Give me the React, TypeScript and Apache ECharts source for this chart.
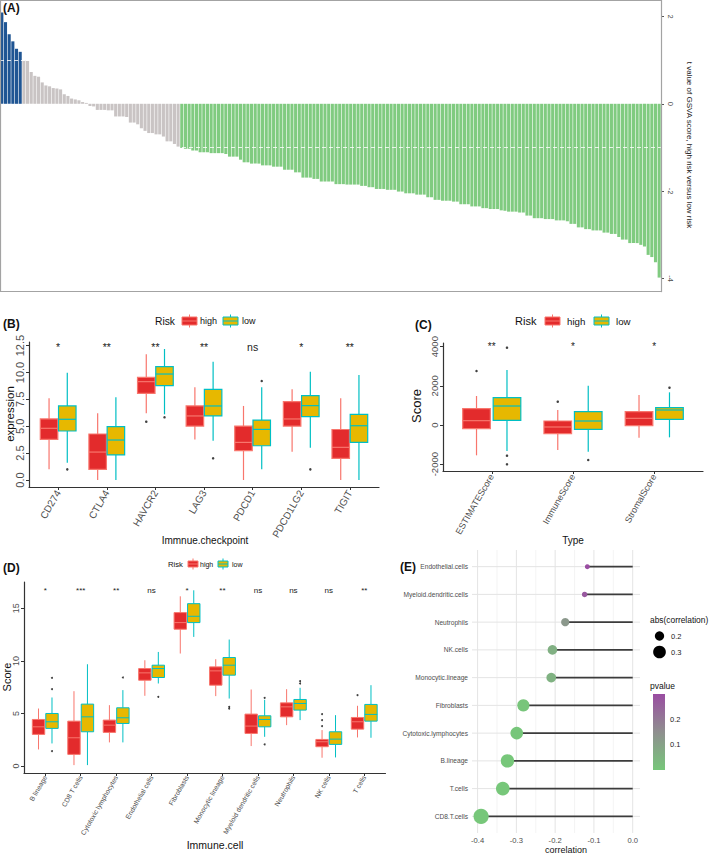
import React, { useEffect, useRef } from 'react';
import * as echarts from 'echarts';

const FONT = "'Liberation Sans', Arial, Helvetica, sans-serif";

// ---------- Panel A: t value of GSVA score (high vs low risk), one bar per pathway ----------
const gsvaT = [
  2.09, 1.87, 1.59, 1.43, 1.26, 1.19, 0.99, 0.98, 0.73, 0.64,
  0.62, 0.49, 0.42, 0.40, 0.36, 0.35, 0.33, 0.22, 0.18, 0.12,
  0.10, 0.08, 0.04, 0.02, -0.05, -0.06, -0.14, -0.14, -0.14, -0.15,
  -0.15, -0.29, -0.29, -0.29, -0.30, -0.43, -0.43, -0.47, -0.56, -0.62,
  -0.67, -0.67, -0.70, -0.70, -0.75, -0.86, -0.86, -0.92, -0.98, -1.01,
  -1.03, -1.03, -1.07, -1.07, -1.11, -1.11, -1.11, -1.13, -1.13, -1.13,
  -1.13, -1.15, -1.21, -1.21, -1.21, -1.28, -1.34, -1.34, -1.37, -1.37,
  -1.37, -1.41, -1.41, -1.41, -1.44, -1.44, -1.44, -1.51, -1.51, -1.51,
  -1.57, -1.57, -1.69, -1.69, -1.69, -1.72, -1.72, -1.78, -1.78, -1.78,
  -1.78, -1.84, -1.84, -1.84, -1.85, -1.85, -1.85, -1.85, -1.88, -1.88,
  -1.91, -1.91, -1.95, -1.95, -1.95, -1.97, -1.97, -1.97, -2.01, -2.01,
  -2.05, -2.05, -2.05, -2.08, -2.08, -2.08, -2.14, -2.14, -2.20, -2.20,
  -2.22, -2.22, -2.22, -2.24, -2.24, -2.30, -2.30, -2.30, -2.35, -2.35,
  -2.35, -2.39, -2.39, -2.41, -2.41, -2.41, -2.44, -2.45, -2.47, -2.47,
  -2.47, -2.49, -2.49, -2.56, -2.56, -2.62, -2.62, -2.62, -2.64, -2.64,
  -2.64, -2.67, -2.67, -2.67, -2.69, -2.75, -2.75, -2.83, -2.83, -2.87,
  -2.87, -2.90, -2.90, -2.90, -2.95, -2.95, -2.98, -2.98, -3.05, -3.11,
  -3.11, -3.19, -3.19, -3.19, -3.23, -3.27, -3.46, -3.51, -3.63, -3.98,
];
const gsvaTicks = [-4, -2, 0, 2];
const gsvaThreshold = 1;

// ---------- Panel B: immune checkpoints, [min, q1, median, q3, max] ----------
const checkpoints = ['CD274', 'CTLA4', 'HAVCR2', 'LAG3', 'PDCD1', 'PDCD1LG2', 'TIGIT'];
const checkpointHigh = [
  [0.99, 3.78, 4.81, 5.68, 7.6],
  [0, 0.99, 2.6, 4.28, 6.2],
  [6.2, 8.06, 9.15, 9.55, 11.69],
  [3.78, 5.02, 5.96, 6.89, 8.62],
  [0, 2.73, 3.5, 5.02, 6.89],
  [2.64, 5.02, 5.68, 7.29, 8.44],
  [0, 2.02, 3.04, 4.7, 7.6],
];
const checkpointLow = [
  [1.61, 4.56, 5.65, 6.89, 9.99],
  [0, 2.33, 3.72, 4.96, 7.69],
  [6.11, 8.78, 9.86, 10.55, 12.19],
  [3.66, 5.96, 6.89, 8.44, 11.01],
  [0.99, 3.19, 4.71, 5.58, 8.62],
  [3.01, 5.89, 6.92, 7.85, 10.08],
  [0, 3.5, 5.05, 6.11, 9.77],
];
const checkpointHighOut: [string, number][] = [['HAVCR2', 5.43]];
const checkpointLowOut: [string, number][] = [
  ['CD274', 0.99], ['HAVCR2', 5.83], ['LAG3', 2.02], ['PDCD1', 9.21], ['PDCD1LG2', 0.99],
];
const checkpointSig = ['*', '**', '**', '**', 'ns', '*', '**'];
const checkpointSigY = 12.35;
const checkpointTicks = [0, 2.5, 5, 7.5, 10, 12.5];

// ---------- Panel C: ESTIMATE scores ----------
const scoreTypes = ['ESTIMATEScore', 'ImmuneScore', 'StromalScore'];
const scoreHigh = [
  [-1549, -187, 221, 834, 1481],
  [-1277, -443, -102, 204, 766],
  [-647, -34, 340, 681, 1532],
];
const scoreLow = [
  [-1328, 238, 970, 1396, 2808],
  [-1362, -221, 204, 681, 2008],
  [-630, 289, 766, 885, 1668],
];
const scoreHighOut: [string, number][] = [['ESTIMATEScore', 2757], ['ImmuneScore', 1191]];
const scoreLowOut: [string, number][] = [
  ['ESTIMATEScore', 3949], ['ESTIMATEScore', -1566], ['ESTIMATEScore', -2008],
  ['ImmuneScore', -1787], ['StromalScore', 1906],
];
const scoreSig = ['**', '*', '*'];
const scoreSigY = 4000;
const scoreTicks = [-2000, 0, 2000, 4000];

// ---------- Panel D: immune cells ----------
const cells = ['B lineage', 'CD8 T cells', 'Cytotoxic lymphocytes', 'Endothelial cells', 'Fibroblasts',
  'Monocytic lineage', 'Myeloid dendritic cells', 'Neutrophils', 'NK cells', 'T cells'];
const cellHigh = [
  [1.58, 3.01, 3.73, 4.43, 5.47],
  [0.09, 1.11, 2.69, 4.27, 7.12],
  [2.25, 3.2, 3.89, 4.37, 5.79],
  [6.68, 8.16, 8.86, 9.27, 10.06],
  [10.7, 13.01, 13.64, 14.59, 16.14],
  [6.65, 7.69, 9.05, 9.43, 10.16],
  [1.9, 3.1, 3.8, 4.94, 7.28],
  [3.89, 4.68, 5.63, 6.01, 7.31],
  [0.79, 1.84, 2.31, 2.53, 3.42],
  [2.72, 3.51, 4.21, 4.62, 5.73],
];
const cellLow = [
  [2.15, 3.58, 4.21, 5.0, 6.52],
  [0.09, 3.26, 4.68, 5.89, 9.68],
  [2.25, 4.05, 4.59, 5.54, 7.22],
  [7.85, 8.42, 9.27, 9.59, 10.85],
  [12.28, 13.64, 14.24, 15.44, 16.71],
  [6.42, 8.64, 9.59, 10.32, 12.03],
  [2.78, 3.73, 4.43, 4.78, 6.3],
  [4.37, 5.32, 5.95, 6.33, 7.44],
  [0.82, 2.06, 2.56, 3.26, 4.84],
  [2.69, 4.27, 4.91, 5.86, 7.69],
];
const cellHighOut: [string, number][] = [['NK cells', 4.94], ['NK cells', 4.37], ['NK cells', 3.8], ['T cells', 6.74]];
const cellLowOut: [string, number][] = [
  ['B lineage', 8.39], ['B lineage', 7.31], ['B lineage', 1.42], ['Cytotoxic lymphocytes', 8.42],
  ['Endothelial cells', 6.58], ['Monocytic lineage', 5.63], ['Monocytic lineage', 5.47],
  ['Myeloid dendritic cells', 6.49], ['Myeloid dendritic cells', 2.06], ['Neutrophils', 8.07], ['Neutrophils', 7.85],
];
const cellSig = ['*', '***', '**', 'ns', '*', '**', 'ns', 'ns', 'ns', '**'];
const cellSigY = 16.7;
const cellTicks = [0, 5, 10, 15];

// ---------- Panel E: correlation lollipop (bottom to top) ----------
const corrCells = ['CD8.T.cells', 'T.cells', 'B.lineage', 'Cytotoxic.lymphocytes', 'Fibroblasts',
  'Monocytic.lineage', 'NK.cells', 'Neutrophils', 'Myeloid.dendritic.cells', 'Endothelial.cells'];
const corrValues = [-0.391, -0.335, -0.323, -0.299, -0.282, -0.210, -0.207, -0.174, -0.124, -0.117];
const corrPvalues = [0.0005, 0.001, 0.001, 0.002, 0.006, 0.055, 0.06, 0.125, 0.27, 0.296];
const corrTicks = [-0.4, -0.3, -0.2, -0.1, 0];
const corrGrid = [-0.4, -0.35, -0.3, -0.25, -0.2, -0.15, -0.1, -0.05, 0];
const sizeLegend = [0.2, 0.3];
const pLegend = [0.1, 0.2];

// ---------- styling ----------
const BLUE = '#1F5593';
const GRAYBAR = '#C9C4C4';
const GREENBAR = '#80CB80';
const HIGH_FILL = '#E32B2C';
const HIGH_LINE = '#F8766D';
const LOW_FILL = '#E7B800';
const LOW_LINE = '#00BFC4';
const AXIS = '#333333';
const LABEL = '#4D4D4D';
const P_GREEN = '#77C77A';
const P_GRAY = '#8F8F8F';
const P_PURPLE = '#9A4DA2';
const P_MAX = 0.296;

const sizeOf = (a: number) => Math.sqrt(Math.max(745 * Math.abs(a) - 62.5, 4));

function boxSeries(axis: number, rows: number[][], offset: number, widthFrac: number, fill: string, stroke: string, lw: number) {
  return {
    type: 'custom', xAxisIndex: axis, yAxisIndex: axis, z: 3,
    data: rows.map((r, i) => [i + 1, ...r]),
    renderItem: (_p: any, api: any) => {
      const c = api.value(0);
      const unit = api.size([1, 0])[0];
      const y = (k: number) => api.coord([c, api.value(k)])[1];
      const cx = api.coord([c, api.value(3)])[0] + offset * unit;
      const w = widthFrac * unit;
      const yMin = y(1), yQ1 = y(2), yMed = y(3), yQ3 = y(4), yMax = y(5);
      const ls = { stroke, lineWidth: lw };
      return {
        type: 'group',
        children: [
          { type: 'line', shape: { x1: cx, y1: yMax, x2: cx, y2: yQ3 }, style: ls },
          { type: 'line', shape: { x1: cx, y1: yQ1, x2: cx, y2: yMin }, style: ls },
          { type: 'rect', shape: { x: cx - w / 2, y: yQ3, width: w, height: yQ1 - yQ3 }, style: { fill, stroke, lineWidth: lw } },
          { type: 'line', shape: { x1: cx - w / 2, y1: yMed, x2: cx + w / 2, y2: yMed }, style: ls },
        ],
      };
    },
  };
}

function outlierSeries(axis: number, names: string[], pts: [string, number][], offset: number, size: number) {
  return {
    type: 'scatter', xAxisIndex: axis, yAxisIndex: axis, z: 4,
    symbolSize: size, itemStyle: { color: '#111' },
    data: pts.map(([n, v]) => [names.indexOf(n) + 1 + offset, v]),
  };
}

function sigSeries(axis: number, labels: string[], yVal: number, fontSize: number) {
  return {
    type: 'custom', xAxisIndex: axis, yAxisIndex: axis, z: 4,
    data: labels.map((_, i) => [i + 1, yVal]),
    renderItem: (p: any, api: any) => {
      const pt = api.coord([api.value(0), api.value(1)]);
      return {
        type: 'text', x: pt[0], y: pt[1],
        style: { text: labels[p.dataIndex], fontSize, fontFamily: FONT, fill: '#222', align: 'center', verticalAlign: 'middle', textAlign: 'center', textVerticalAlign: 'middle' },
      };
    },
  };
}

function catXAxis(grid: number, names: string[], fontSize: number, margin: number) {
  const ticks = names.map((_, i) => i + 1);
  return {
    type: 'value', gridIndex: grid, min: 0.4, max: names.length + 0.6,
    splitLine: { show: false },
    axisLine: { show: true, onZero: false, lineStyle: { color: AXIS, width: 1.2 } },
    axisTick: { show: true, length: 3, customValues: ticks, lineStyle: { color: AXIS, width: 1 } },
    axisLabel: {
      customValues: ticks, formatter: (v: number) => names[Math.round(v) - 1] ?? '',
      rotate: 60, fontSize, color: LABEL, margin, fontFamily: FONT,
    },
  };
}

function valYAxis(grid: number, min: number, max: number, ticks: number[], fmt: (v: number) => string, fontSize: number) {
  return {
    type: 'value', gridIndex: grid, min, max,
    splitLine: { show: false },
    axisLine: { show: true, onZero: false, lineStyle: { color: AXIS, width: 1.2 } },
    axisTick: { show: true, length: 3, customValues: ticks, lineStyle: { color: AXIS, width: 1 } },
    axisLabel: { customValues: ticks, formatter: fmt, rotate: 90, fontSize, color: LABEL, margin: 4, fontFamily: FONT },
  };
}

function txt(x: number, y: number, text: string, fontSize: number, opts: any = {}) {
  return {
    type: 'text', x, y, rotation: opts.rotation || 0, z: 10,
    style: {
      text, fontSize, fontFamily: FONT, fontWeight: opts.bold ? 'bold' : 'normal',
      fill: opts.color || '#111', align: opts.align || 'center', verticalAlign: 'middle',
      textAlign: opts.align || 'center', textVerticalAlign: 'middle',
    },
  };
}

function legendIcon(x: number, yc: number, w: number, h: number, fill: string, stroke: string) {
  return {
    type: 'group', z: 10,
    children: [
      { type: 'line', shape: { x1: x + w / 2, y1: yc - h / 2 - 2.5, x2: x + w / 2, y2: yc + h / 2 + 2.5 }, style: { stroke, lineWidth: 1 } },
      { type: 'rect', shape: { x, y: yc - h / 2, width: w, height: h }, style: { fill, stroke, lineWidth: 1 } },
      { type: 'line', shape: { x1: x, y1: yc, x2: x + w, y2: yc }, style: { stroke, lineWidth: 1 } },
    ],
  };
}

function riskLegend(yc: number, xs: number[], titleSize: number, labelSize: number, iw: number, ih: number) {
  return [
    txt(xs[0], yc, 'Risk', titleSize, { align: 'left' }),
    legendIcon(xs[1], yc, iw, ih, HIGH_FILL, HIGH_LINE),
    txt(xs[2], yc, 'high', labelSize, { align: 'left' }),
    legendIcon(xs[3], yc, iw, ih, LOW_FILL, LOW_LINE),
    txt(xs[4], yc, 'low', labelSize, { align: 'left' }),
  ];
}

function buildOption(): any {
  const series: any[] = [];

  // A
  series.push({
    type: 'bar', xAxisIndex: 0, yAxisIndex: 0, barCategoryGap: '16%',
    data: gsvaT.map((v) => ({ value: v, itemStyle: { color: v > gsvaThreshold ? BLUE : v < -gsvaThreshold ? GREENBAR : GRAYBAR } })),
    markLine: {
      silent: true, symbol: 'none', label: { show: false },
      lineStyle: { color: '#ffffff', type: [4, 3], width: 0.8 },
      data: [{ yAxis: gsvaThreshold }, { yAxis: -gsvaThreshold }],
    },
  });

  // B
  series.push(boxSeries(1, checkpointHigh, -0.1875, 0.36, HIGH_FILL, HIGH_LINE, 1.2));
  series.push(boxSeries(1, checkpointLow, 0.1875, 0.36, LOW_FILL, LOW_LINE, 1.2));
  series.push(outlierSeries(1, checkpoints, checkpointHighOut, -0.1875, 2.5));
  series.push(outlierSeries(1, checkpoints, checkpointLowOut, 0.1875, 2.5));
  series.push(sigSeries(1, checkpointSig, checkpointSigY, 10.5));

  // C
  series.push(boxSeries(2, scoreHigh, -0.1875, 0.34, HIGH_FILL, HIGH_LINE, 1.2));
  series.push(boxSeries(2, scoreLow, 0.1875, 0.34, LOW_FILL, LOW_LINE, 1.2));
  series.push(outlierSeries(2, scoreTypes, scoreHighOut, -0.1875, 2.5));
  series.push(outlierSeries(2, scoreTypes, scoreLowOut, 0.1875, 2.5));
  series.push(sigSeries(2, scoreSig, scoreSigY, 10));

  // D
  series.push(boxSeries(3, cellHigh, -0.19, 0.35, HIGH_FILL, HIGH_LINE, 1));
  series.push(boxSeries(3, cellLow, 0.19, 0.35, LOW_FILL, LOW_LINE, 1));
  series.push(outlierSeries(3, cells, cellHighOut, -0.19, 2));
  series.push(outlierSeries(3, cells, cellLowOut, 0.19, 2));
  series.push(sigSeries(3, cellSig, cellSigY, 8));

  // E grid lines
  series.push({
    type: 'custom', xAxisIndex: 4, yAxisIndex: 4, z: 1, silent: true,
    data: corrGrid.map((v) => [v, 1]),
    renderItem: (p: any, api: any) => {
      const cs = p.coordSys;
      const v = api.value(0);
      const x = api.coord([v, 1])[0];
      const major = Math.abs(v * 10 - Math.round(v * 10)) < 1e-6;
      return { type: 'line', shape: { x1: x, y1: cs.y, x2: x, y2: cs.y + cs.height }, style: { stroke: major ? '#E4E4E4' : '#EFEFEF', lineWidth: major ? 1 : 0.7 } };
    },
  });
  series.push({
    type: 'custom', xAxisIndex: 4, yAxisIndex: 4, z: 1, silent: true,
    data: corrCells.map((_, i) => [0, i + 1]),
    renderItem: (p: any, api: any) => {
      const cs = p.coordSys;
      const y = api.coord([0, api.value(1)])[1];
      return { type: 'line', shape: { x1: cs.x, y1: y, x2: cs.x + cs.width, y2: y }, style: { stroke: '#E4E4E4', lineWidth: 1 } };
    },
  });
  // E stems
  series.push({
    type: 'custom', xAxisIndex: 4, yAxisIndex: 4, z: 2,
    data: corrValues.map((v, i) => [v, i + 1]),
    renderItem: (_p: any, api: any) => {
      const a = api.coord([0, api.value(1)]);
      const b = api.coord([api.value(0), api.value(1)]);
      return { type: 'line', shape: { x1: b[0], y1: b[1], x2: a[0], y2: a[1] }, style: { stroke: '#3C3C3C', lineWidth: 1.6 } };
    },
  });
  // E dots
  series.push({
    type: 'scatter', xAxisIndex: 4, yAxisIndex: 4, z: 3,
    data: corrValues.map((v, i) => [v, i + 1, corrPvalues[i]]),
    symbolSize: (val: number[]) => sizeOf(val[0]),
    itemStyle: { opacity: 1 },
  });
  const dotIndex = series.length - 1;

  const graphic: any[] = [
    // panel A frame
    { type: 'rect', z: 10, silent: true, shape: { x: 0.5, y: 0.5, width: 661, height: 291 }, style: { fill: 'none', stroke: '#A3A3A3', lineWidth: 1.2 } },
    txt(3, 8, '(A)', 12, { bold: true, align: 'left' }),
    txt(689, 145, 't value of GSVA score, high risk versus low risk', 8, { rotation: -Math.PI / 2, color: '#222' }),
    // B
    txt(3, 324, '(B)', 12, { bold: true, align: 'left' }),
    ...riskLegend(321, [155, 182, 200, 223, 242], 10.3, 9, 15, 8),
    txt(10, 414, 'expression', 11.5, { rotation: Math.PI / 2 }),
    txt(205, 540, 'Immnue.checkpoint', 10),
    // C
    txt(415, 325, '(C)', 12, { bold: true, align: 'left' }),
    ...riskLegend(321, [515, 545, 567, 594, 616], 11, 9.7, 15, 8),
    txt(416, 406, 'Score', 13, { rotation: Math.PI / 2 }),
    txt(573, 540, 'Type', 10),
    // D
    txt(3, 568, '(D)', 12, { bold: true, align: 'left' }),
    ...riskLegend(564, [168, 188, 200, 218, 232], 7.7, 7, 10, 6),
    txt(7, 677, 'Score', 11, { rotation: Math.PI / 2 }),
    txt(215, 845, 'Immune.cell', 10.5),
    // E
    txt(400, 567, '(E)', 12, { bold: true, align: 'left' }),
    txt(566, 850, 'correlation', 9),
    txt(650, 620, 'abs(correlation)', 8.4, { align: 'left' }),
    ...sizeLegend.map((s, i) => ({
      type: 'circle', z: 10, shape: { cx: 659.5, cy: 636 + i * 16, r: sizeOf(s) / 2 }, style: { fill: '#000' },
    })),
    ...sizeLegend.map((s, i) => txt(671, 636 + i * 16, s.toFixed(1), 7.5, { align: 'left', color: '#222' })),
    txt(650, 686, 'pvalue', 8.5, { align: 'left' }),
    {
      type: 'rect', z: 10, shape: { x: 653, y: 694, width: 12, height: 76 },
      style: {
        fill: new echarts.graphic.LinearGradient(0, 0, 0, 1, [
          { offset: 0, color: P_PURPLE }, { offset: 0.5, color: P_GRAY }, { offset: 1, color: P_GREEN },
        ]),
      },
    },
    ...pLegend.map((p) => {
      const y = 770 - (p / 0.3) * 76;
      return {
        type: 'group', z: 11, children: [
          { type: 'line', shape: { x1: 653, y1: y, x2: 655.5, y2: y }, style: { stroke: '#fff', lineWidth: 0.8 } },
          { type: 'line', shape: { x1: 662.5, y1: y, x2: 665, y2: y }, style: { stroke: '#fff', lineWidth: 0.8 } },
        ],
      };
    }),
    ...pLegend.map((p) => txt(670, 770 - (p / 0.3) * 76, p.toFixed(1), 7.5, { align: 'left', color: '#222' })),
  ];

  return {
    animation: false,
    backgroundColor: '#ffffff',
    textStyle: { fontFamily: FONT },
    grid: [
      { left: 0, top: 0, width: 661, height: 291.7 },
      { left: 29, top: 342, width: 350, height: 145 },
      { left: 443, top: 343, width: 260, height: 128 },
      { left: 24, top: 582, width: 361.5, height: 191 },
      { left: 472, top: 550, width: 168, height: 283 },
    ],
    xAxis: [
      { type: 'category', gridIndex: 0, data: gsvaT.map((_, i) => String(i + 1)), show: false },
      catXAxis(1, checkpoints, 10, 4),
      catXAxis(2, scoreTypes, 9, 4),
      catXAxis(3, cells, 6.8, 3),
      {
        type: 'value', gridIndex: 4, min: -0.4144, max: 0.0188,
        splitLine: { show: false }, axisLine: { show: false }, axisTick: { show: false },
        axisLabel: { customValues: corrTicks, formatter: (v: number) => v.toFixed(1), fontSize: 7.6, color: LABEL, margin: 3, fontFamily: FONT },
      },
    ],
    yAxis: [
      {
        type: 'value', gridIndex: 0, position: 'right', min: -4.303, max: 2.377,
        splitLine: { show: false },
        axisLine: { show: true, onZero: false, lineStyle: { color: '#555', width: 1 } },
        axisTick: { show: true, length: 3, customValues: gsvaTicks, lineStyle: { color: '#555' } },
        axisLabel: { customValues: gsvaTicks, rotate: -90, fontSize: 7.5, color: LABEL, margin: 5 },
      },
      valYAxis(1, -0.65, 12.84, checkpointTicks, (v) => v.toFixed(1), 11),
      valYAxis(2, -2349, 4187, scoreTicks, (v) => String(v), 9.5),
      valYAxis(3, -0.66, 17.5, cellTicks, (v) => String(v), 9),
      {
        type: 'value', gridIndex: 4, min: 0.4, max: 10.6,
        splitLine: { show: false }, axisLine: { show: false }, axisTick: { show: false },
        axisLabel: {
          customValues: corrCells.map((_, i) => i + 1), formatter: (v: number) => corrCells[Math.round(v) - 1] ?? '',
          fontSize: 6.6, color: LABEL, margin: 4, fontFamily: FONT,
        },
      },
    ],
    visualMap: [{
      type: 'continuous', show: false, seriesIndex: dotIndex, dimension: 2, min: 0, max: P_MAX,
      inRange: { color: [P_GREEN, P_GRAY, P_PURPLE] },
    }],
    series,
    graphic,
  };
}

export default function App() {
  const ref = useRef<HTMLDivElement>(null);
  useEffect(() => {
    if (!ref.current) return;
    const chart = echarts.init(ref.current, undefined, { renderer: 'svg' });
    chart.setOption(buildOption());
    return () => chart.dispose();
  }, []);
  return <div ref={ref} style={{ position: 'absolute', left: 0, top: 0, width: 709, height: 854, background: '#fff' }} />;
}
